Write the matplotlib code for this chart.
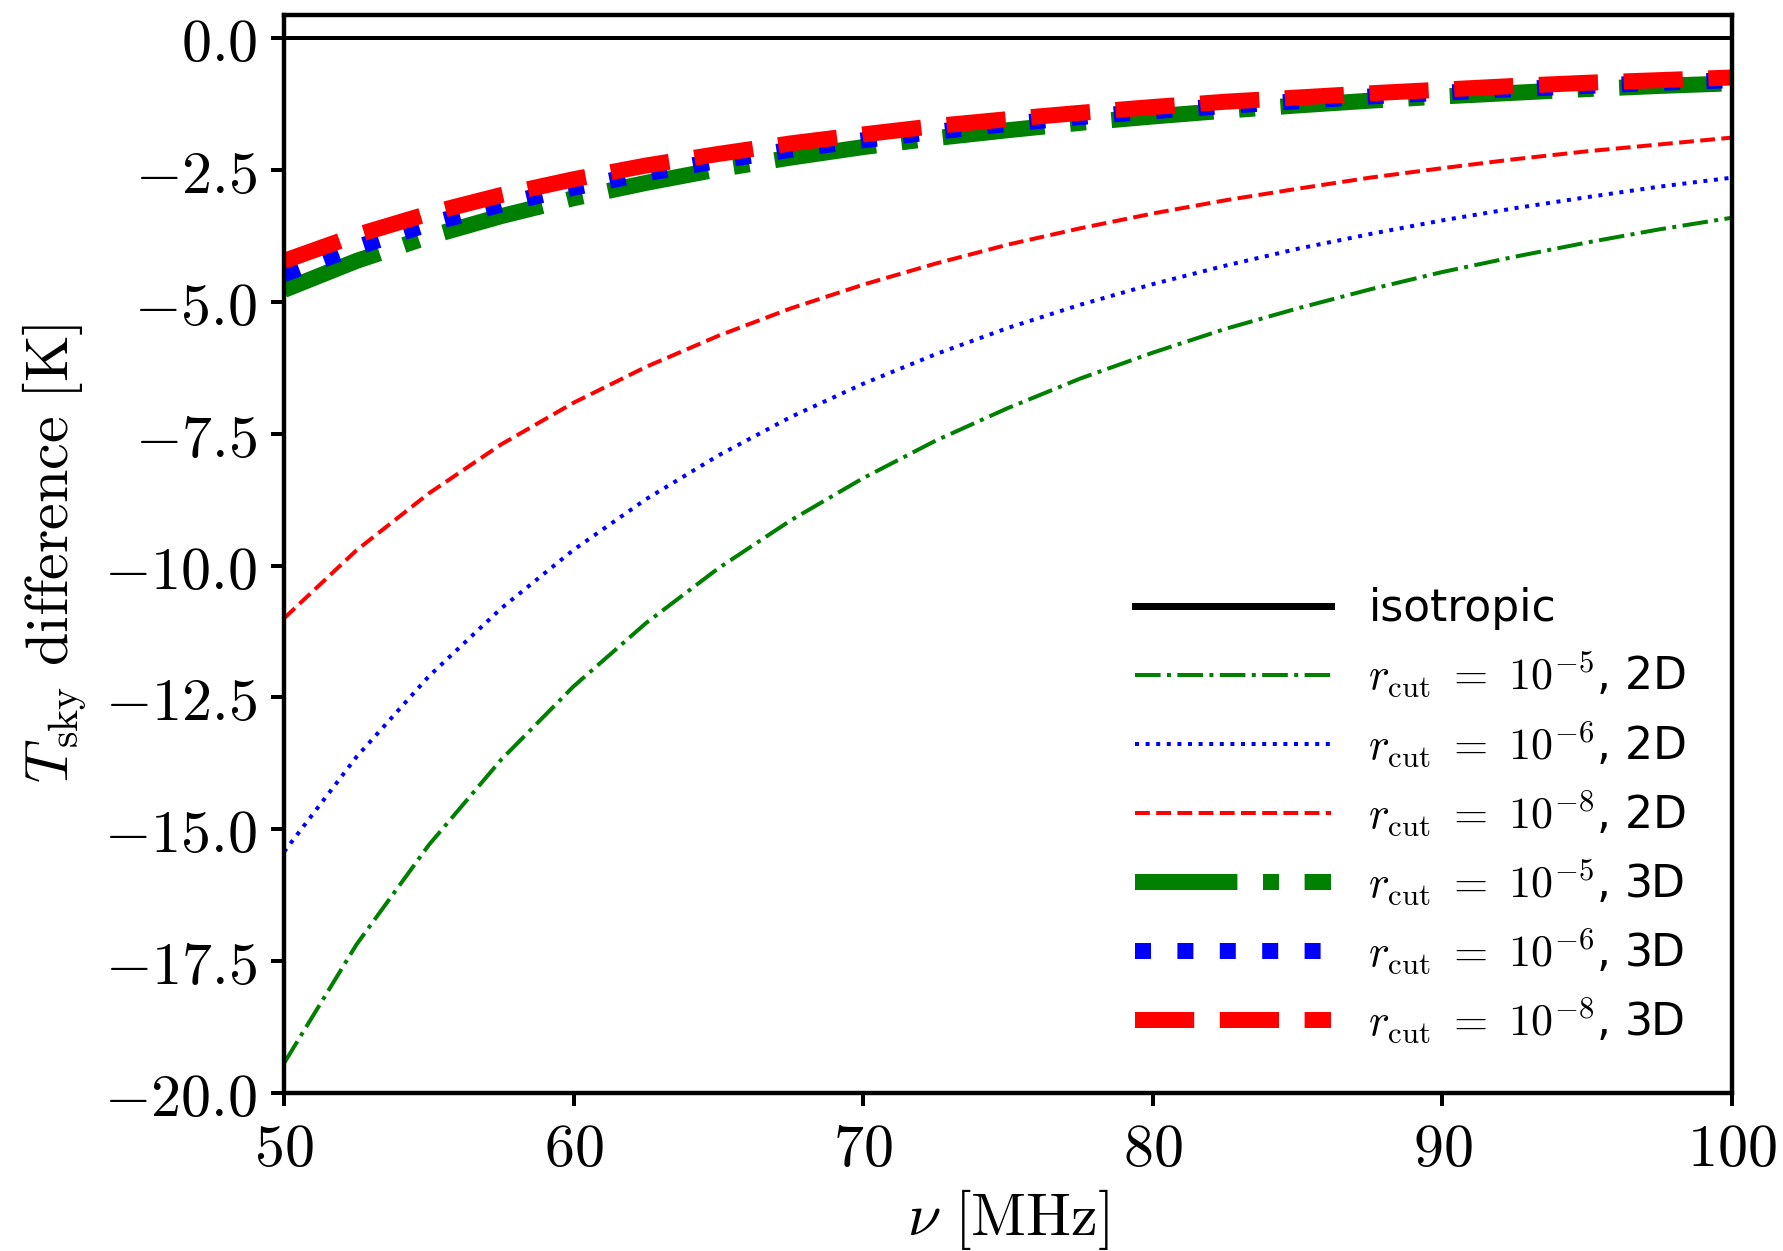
import matplotlib
matplotlib.use("Agg")
import matplotlib.pyplot as plt
from matplotlib.ticker import FuncFormatter, MultipleLocator

plt.rcParams['mathtext.fontset'] = 'cm'
plt.rcParams['font.family'] = ['DejaVu Sans']

# frequency grid [MHz]
nu = [50, 52.5, 55, 57.5, 60, 62.5, 65, 67.5, 70, 72.5, 75,
      77.5, 80, 82.5, 85, 87.5, 90, 92.5, 95, 97.5, 100]

# T_sky difference [K]
iso = [0.0] * len(nu)
d2_r5 = [-19.44, -17.19, -15.30, -13.68, -12.29, -11.09, -10.05, -9.14, -8.34, -7.63, -7.01,
         -6.45, -5.96, -5.51, -5.12, -4.76, -4.43, -4.14, -3.87, -3.62, -3.40]
d2_r6 = [-15.43, -13.63, -12.10, -10.81, -9.70, -8.74, -7.91, -7.18, -6.55, -5.99, -5.49,
         -5.05, -4.66, -4.31, -3.99, -3.71, -3.45, -3.22, -3.01, -2.81, -2.64]
d2_r8 = [-11.00, -9.71, -8.63, -7.70, -6.91, -6.23, -5.64, -5.12, -4.67, -4.27, -3.91,
         -3.60, -3.32, -3.07, -2.85, -2.64, -2.46, -2.29, -2.14, -2.01, -1.88]
d3_r5 = [-4.77, -4.22, -3.76, -3.37, -3.03, -2.74, -2.48, -2.26, -2.06, -1.89, -1.74,
         -1.60, -1.48, -1.37, -1.27, -1.18, -1.10, -1.03, -0.96, -0.90, -0.85]
d3_r6 = [-4.47, -3.96, -3.52, -3.15, -2.83, -2.56, -2.32, -2.11, -1.93, -1.77, -1.62,
         -1.49, -1.38, -1.28, -1.19, -1.10, -1.03, -0.96, -0.90, -0.84, -0.79]
d3_r8 = [-4.22, -3.73, -3.32, -2.97, -2.67, -2.41, -2.19, -1.99, -1.82, -1.66, -1.53,
         -1.41, -1.30, -1.20, -1.12, -1.04, -0.97, -0.90, -0.84, -0.79, -0.74]

fig = plt.figure(figsize=(1783 / 288, 1251 / 288), dpi=288)
ax = fig.add_axes([0.1593, 0.1265, 0.8121, 0.8617])

ax.plot(nu, iso, color='k', lw=1.0, label='isotropic')
ax.plot(nu, d2_r5, color='green', ls='-.', lw=1.0, label=r'$r_{\rm cut}\ =\ 10^{-5}$, 2D')
ax.plot(nu, d2_r6, color='blue', ls=':', lw=1.0, label=r'$r_{\rm cut}\ =\ 10^{-6}$, 2D')
ax.plot(nu, d2_r8, color='red', ls='--', lw=1.0, label=r'$r_{\rm cut}\ =\ 10^{-8}$, 2D')
ax.plot(nu, d3_r5, color='green', ls='-.', lw=4.0, label=r'$r_{\rm cut}\ =\ 10^{-5}$, 3D')
ax.plot(nu, d3_r6, color='blue', ls=':', lw=4.0, label=r'$r_{\rm cut}\ =\ 10^{-6}$, 3D')
ax.plot(nu, d3_r8, color='red', ls='--', lw=4.0, label=r'$r_{\rm cut}\ =\ 10^{-8}$, 3D')

ax.set_xlim(50, 100)
ax.set_ylim(-20, 0.45)
ax.xaxis.set_major_locator(MultipleLocator(10))
ax.yaxis.set_major_locator(MultipleLocator(2.5))
ax.xaxis.set_major_formatter(FuncFormatter(lambda v, p: r'$%d$' % round(v)))
ax.yaxis.set_major_formatter(FuncFormatter(lambda v, p: r'$%.1f$' % v))
ax.tick_params(labelsize=15, length=3.2, width=1.0)
for s in ax.spines.values():
    s.set_linewidth(1.1)

ax.set_xlabel(r'$\nu\ [\rm MHz]$', fontsize=15, labelpad=2)
ax.set_ylabel(r'$T_{\rm sky}\ {\rm difference}\ [\rm K]$', fontsize=15, labelpad=4)

leg = ax.legend(loc='lower right', frameon=False, fontsize=11, handlelength=4.45,
                handletextpad=0.85, labelspacing=0.45, bbox_to_anchor=(0.996, 0.0075))
leg.legend_handles[0].set_linewidth(1.75)

fig.savefig('out.png', dpi=288)
